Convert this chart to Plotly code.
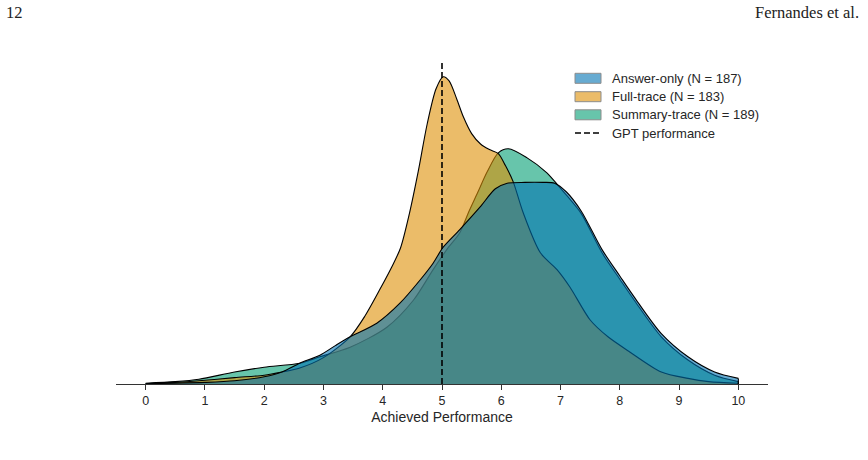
import plotly.graph_objects as go

# ---- data (density estimates) ----
answer_x = [0.0, 0.5, 1.0, 1.5, 2.0, 2.3, 2.6, 2.94, 3.2, 3.45, 3.9, 4.29, 4.63, 4.85,
            5.02, 5.3, 5.64, 5.9, 6.1, 6.4, 6.7, 6.9, 7.1, 7.35, 7.7, 8.0, 8.25, 8.7,
            9.15, 9.6, 10.0]
answer_y = [0.0004, 0.001, 0.002, 0.004, 0.009, 0.015, 0.026, 0.036, 0.048, 0.059, 0.076,
            0.101, 0.130, 0.151, 0.171, 0.193, 0.221, 0.244, 0.251, 0.252, 0.252, 0.251,
            0.240, 0.216, 0.168, 0.135, 0.108, 0.063, 0.034, 0.015, 0.007]

full_x = [0.0, 0.5, 0.9, 1.5, 2.0, 2.3, 2.6, 3.0, 3.45, 3.7, 3.95, 4.15, 4.3, 4.45, 4.6,
          4.75, 4.9, 5.02, 5.12, 5.25, 5.36, 5.5, 5.65, 5.8, 5.95, 6.07, 6.2, 6.37, 6.66,
          6.94, 7.16, 7.5, 7.8, 8.15, 8.7, 9.15, 9.5, 10.0]
full_y = [0.0004, 0.002, 0.004, 0.008, 0.011, 0.015, 0.020, 0.033, 0.059, 0.085, 0.118,
          0.146, 0.170, 0.213, 0.266, 0.325, 0.369, 0.384, 0.379, 0.356, 0.334, 0.313,
          0.300, 0.293, 0.288, 0.273, 0.253, 0.214, 0.164, 0.143, 0.121, 0.080, 0.059,
          0.041, 0.015, 0.007, 0.003, 0.001]

summary_x = [0.0, 0.5, 0.9, 1.5, 2.0, 2.6, 2.94, 3.45, 4.07, 4.52, 4.85, 5.08, 5.3, 5.45,
             5.6, 5.76, 5.95, 6.12, 6.43, 6.77, 6.95, 7.1, 7.35, 7.7, 8.0, 8.25, 8.7,
             9.15, 9.6, 10.0]
summary_y = [0.001, 0.003, 0.006, 0.015, 0.021, 0.026, 0.034, 0.046, 0.071, 0.105, 0.143,
             0.168, 0.189, 0.215, 0.239, 0.265, 0.289, 0.294, 0.283, 0.264, 0.249, 0.236,
             0.213, 0.164, 0.131, 0.104, 0.059, 0.030, 0.011, 0.003]

series_names = ["Answer-only (N = 187)", "Full-trace (N = 183)", "Summary-trace (N = 189)"]
gpt_performance = 5.0
gpt_label = "GPT performance"
tick_values = list(range(0, 11))
x_title = "Achieved Performance"

# ---- styles ----
colors = {"answer": "rgba(1,115,178,0.6)", "full": "rgba(222,143,5,0.6)",
          "summary": "rgba(2,158,115,0.6)"}
y_top = 0.4025
L, R, T, B = 116, 768, 62, 384  # plot area in pixels


def px_x(p):
    return (p - L) / (R - L)


def px_y(p):
    return (B - p) / (B - T)


fig = go.Figure()

# draw order: summary, full, answer (answer on top)
for key, xs, ys in [("summary", summary_x, summary_y), ("full", full_x, full_y),
                    ("answer", answer_x, answer_y)]:
    fig.add_trace(go.Scatter(
        x=xs, y=ys, mode="lines", fill="tozeroy", fillcolor=colors[key],
        line=dict(color="black", width=1.1, shape="spline", smoothing=0.8),
        showlegend=False, hoverinfo="skip"))
    # closing edge at the clipped end of the KDE support
    fig.add_shape(type="line", xref="x", yref="y", x0=xs[-1], x1=xs[-1], y0=0, y1=ys[-1],
                  line=dict(color="black", width=1.1), layer="above")

fig.add_trace(go.Scatter(
    x=[gpt_performance, gpt_performance], y=[0, y_top], mode="lines",
    line=dict(color="black", width=1.6, dash="6px,3px"), showlegend=False,
    hoverinfo="skip"))

fig.update_layout(
    width=868, height=460,
    margin=dict(l=L, r=868 - R, t=T, b=460 - B),
    paper_bgcolor="white", plot_bgcolor="white",
    font=dict(family="Liberation Sans, Arial, sans-serif", color="#262626", size=12),
    showlegend=False,
    xaxis=dict(range=[-0.5, 10.5], tickvals=tick_values, ticks="outside", ticklen=5,
               tickwidth=1, tickcolor="#333333", showline=True, linecolor="#333333",
               linewidth=1.3, showgrid=False, zeroline=False,
               title=dict(text=x_title, font=dict(size=14, color="#262626"), standoff=5),
               tickfont=dict(size=12.5, color="#262626")),
    yaxis=dict(range=[0, y_top], visible=False, showgrid=False, zeroline=False),
)

# ---- legend (drawn manually to match matplotlib patches) ----
leg_rows = [78.3, 96.7, 114.8, 133.0]
for i, key in enumerate(["answer", "full", "summary"]):
    cy = leg_rows[i]
    fig.add_shape(type="rect", xref="paper", yref="paper",
                  x0=px_x(575), x1=px_x(601), y0=px_y(cy - 5), y1=px_y(cy + 5),
                  fillcolor=colors[key], line=dict(color="#8c8c8c", width=1))
    fig.add_annotation(text=series_names[i], xref="paper", yref="paper", x=px_x(610),
                       y=px_y(cy), xanchor="left", yanchor="middle", showarrow=False,
                       font=dict(size=13, color="#262626"))
fig.add_shape(type="line", xref="paper", yref="paper", x0=px_x(575), x1=px_x(601),
              y0=px_y(leg_rows[3]), y1=px_y(leg_rows[3]),
              line=dict(color="black", width=1.6, dash="6px,3px"))
fig.add_annotation(text=gpt_label, xref="paper", yref="paper", x=px_x(610),
                   y=px_y(leg_rows[3]), xanchor="left", yanchor="middle", showarrow=False,
                   font=dict(size=13, color="#262626"))

# ---- page header ----
fig.add_annotation(text="12", xref="paper", yref="paper", x=px_x(4),
                   y=px_y(12), xanchor="left", yanchor="middle", showarrow=False,
                   font=dict(family="Liberation Serif, serif", size=16.5, color="#222222"))
fig.add_annotation(text="Fernandes et al.", xref="paper", yref="paper", x=px_x(861),
                   y=px_y(12), xanchor="right", yanchor="middle", showarrow=False,
                   font=dict(family="Liberation Serif, serif", size=16.5, color="#222222"))

fig.write_html("out.html")
